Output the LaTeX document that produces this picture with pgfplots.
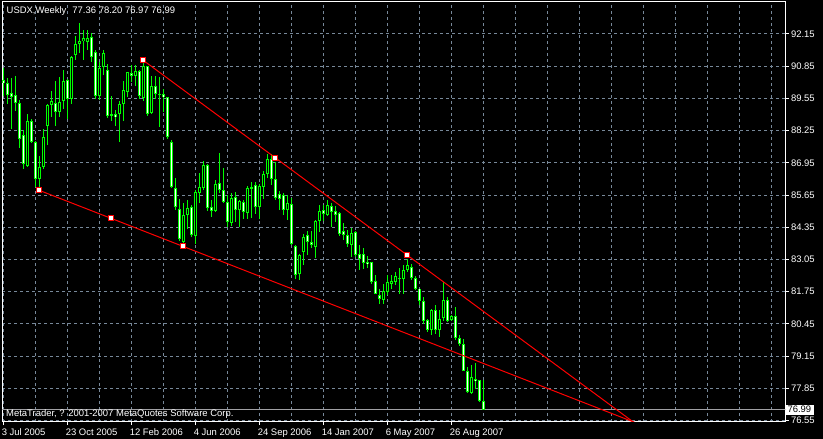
\documentclass[border=0pt]{standalone}
\usepackage{pgfplots}
\usepackage{pgfplotstable}
\pgfplotsset{compat=1.18}
\usepackage{fontspec}
\setmainfont{Liberation Sans}
\definecolor{cgreen}{RGB}{0,255,0}
\definecolor{cred}{RGB}{255,0,0}
\definecolor{cgrid}{RGB}{119,136,153}
\definecolor{cprice}{RGB}{160,160,164}

\pgfplotstableread{
i o h l c
0 90.29 90.77 89.65 90.16
1 90.16 90.36 89.32 89.70
2 89.78 90.36 88.33 89.59
3 89.67 90.46 89.05 89.35
4 89.35 89.48 87.56 87.93
5 88.07 88.29 86.69 86.91
6 86.83 88.91 86.77 88.63
7 88.63 88.70 87.75 87.80
8 87.80 87.82 85.96 86.29
9 86.29 87.21 85.83 86.77
10 86.77 88.30 86.71 87.99
11 88.45 89.31 87.67 89.27
12 89.27 89.85 88.81 89.43
13 89.37 90.25 88.43 89.01
14 89.01 90.40 88.81 89.42
15 89.43 90.70 89.14 90.24
16 90.30 90.32 88.72 89.51
17 89.51 91.25 89.32 91.22
18 91.30 92.06 91.11 91.76
19 91.76 92.60 91.38 91.88
20 91.85 92.33 91.11 91.99
21 91.81 92.31 91.50 92.00
22 92.01 92.17 91.03 91.23
23 91.43 91.49 89.52 89.64
24 89.66 91.01 89.50 90.77
25 90.81 91.49 90.50 91.39
26 90.69 90.94 88.78 88.85
27 88.85 89.66 88.64 88.91
28 88.94 89.10 88.44 88.78
29 88.91 89.46 87.79 89.32
30 89.32 90.24 88.64 89.90
31 89.79 90.63 89.59 90.61
32 90.58 90.88 90.20 90.47
33 90.47 90.88 90.06 90.65
34 90.65 90.68 89.52 89.63
35 89.55 91.15 89.46 90.85
36 90.85 90.87 88.85 88.91
37 88.95 90.44 88.92 90.04
38 90.04 90.47 89.52 89.71
39 89.72 90.40 88.41 89.70
40 89.71 89.95 89.00 89.60
41 89.59 89.62 87.90 87.98
42 87.80 87.87 85.94 85.98
43 85.93 86.34 85.05 85.16
44 85.08 85.49 83.81 83.86
45 83.77 85.33 83.70 84.84
46 84.84 85.46 84.27 85.12
47 85.16 85.26 83.97 84.05
48 84.01 85.87 83.67 85.77
49 85.73 86.54 85.33 85.98
50 85.93 87.02 85.87 86.88
51 86.88 86.90 84.99 85.12
52 85.16 85.46 84.76 84.99
53 84.99 86.27 84.95 86.11
54 86.14 87.33 85.73 85.87
55 85.87 86.75 85.35 85.39
56 85.37 85.66 84.35 84.58
57 84.54 85.73 84.40 85.53
58 85.57 85.76 84.58 85.05
59 85.05 85.46 84.35 85.43
60 85.39 85.45 84.68 84.95
61 84.92 86.00 84.68 85.93
62 85.92 86.16 84.73 85.98
63 86.07 86.16 84.89 85.16
64 85.16 86.11 84.68 86.03
65 85.98 86.61 85.49 86.52
66 86.52 87.29 86.34 87.09
67 87.11 87.29 86.07 86.30
68 86.30 86.98 85.46 85.53
69 85.70 85.80 85.05 85.49
70 85.66 85.73 84.85 85.05
71 85.03 85.66 84.65 85.33
72 85.29 85.53 83.63 83.66
73 83.59 83.63 82.28 82.44
74 82.48 83.29 82.21 83.25
75 83.36 84.08 82.82 83.97
76 84.03 84.22 83.22 83.77
77 83.77 84.22 83.50 83.63
78 83.56 84.65 83.13 84.62
79 84.60 85.26 84.18 85.00
80 85.03 85.26 84.60 84.89
81 84.85 85.46 84.80 85.26
82 85.22 85.33 84.38 84.95
83 84.99 85.19 84.58 84.85
84 84.92 84.95 84.00 84.07
85 84.21 84.51 83.84 84.04
86 84.04 84.24 83.56 83.67
87 83.63 84.31 83.16 84.13
88 84.17 84.19 83.16 83.23
89 83.29 83.63 82.62 83.09
90 83.29 83.50 82.68 82.92
91 82.96 83.20 82.70 82.86
92 82.94 82.96 82.08 82.14
93 82.17 82.41 81.64 81.67
94 81.60 81.87 81.24 81.47
95 81.40 82.08 81.24 81.76
96 81.74 82.41 81.60 82.14
97 82.08 82.41 81.87 82.17
98 82.14 82.55 82.04 82.37
99 82.32 82.69 81.67 82.28
100 82.28 82.82 81.67 82.62
101 82.62 83.09 82.55 82.82
102 82.75 82.86 82.24 82.32
103 82.32 82.38 81.81 81.88
104 81.88 81.88 81.20 81.38
105 81.38 81.54 80.46 80.57
106 80.59 80.66 80.12 80.22
107 80.22 81.07 79.99 81.03
108 81.03 81.20 80.05 80.22
109 80.22 81.03 79.92 80.66
110 80.70 82.15 80.59 81.40
111 81.40 81.54 80.53 80.59
112 80.62 80.80 80.58 80.76
113 80.76 81.13 79.81 79.89
114 79.87 79.99 79.58 79.65
115 79.65 79.85 78.54 78.57
116 78.57 78.71 77.65 77.69
117 77.65 78.81 77.63 78.30
118 78.23 78.87 77.83 78.14
119 78.19 78.19 77.29 77.33
120 77.36 78.20 76.97 76.99
}\ohlc

\begin{document}
\begin{tikzpicture}
\path[use as bounding box, fill=black] (0,0) rectangle (823bp,439bp);
\begin{axis}[
  at={(2bp,17.3bp)}, anchor=south west,
  scale only axis, width=783.3bp, height=419.7bp,
  xmin=-0.325, xmax=195.5, ymin=76.506, ymax=93.44,
  axis line style={white, line width=1bp},
  xtick={0,16,32,48,64,80,96,112},
  xticklabels={3 Jul 2005,23 Oct 2005,12 Feb 2006,4 Jun 2006,24 Sep 2006,14 Jan 2007,6 May 2007,26 Aug 2007},
  minor xtick={8,24,40,56,72,88,104,120,128,136,144,152,160,168,176,184,192},
  ytick={76.55,77.85,79.15,80.45,81.75,83.05,84.35,85.65,86.95,88.25,89.55,90.85,92.15},
  yticklabels={76.55,77.85,79.15,80.45,81.75,83.05,84.35,85.65,86.95,88.25,89.55,90.85,92.15},
  xtick pos=left, ytick pos=right, yticklabel pos=right,
  tick align=outside,
  major tick length=3.5bp, minor tick length=0pt,
  tick style={white, line width=1bp},
  grid=both,
  major grid style={draw=cgrid, dash pattern=on 3bp off 3bp, line width=1bp},
  minor grid style={draw=cgrid, dash pattern=on 3bp off 3bp, line width=1bp},
  ticklabel style={text=white, font=\fontsize{9.5}{10}\selectfont},
  xticklabel style={anchor=north west, inner sep=0pt, xshift=-1.7bp, yshift=-3bp},
  yticklabel style={anchor=west, inner sep=0pt, xshift=2bp},
  extra y ticks={76.99}, extra y tick labels={76.99},
  extra y tick style={grid=none, major tick length=0pt,
    yticklabel style={fill=white, text=black, inner xsep=2.5bp, inner ysep=1.8bp, xshift=-2.5bp}},
]
% current price line
\addplot[cprice, line width=1bp, forget plot] coordinates {(-1,76.99) (200,76.99)};
% wicks
\addplot[draw=none, mark=none, forget plot,
  error bars/.cd, y dir=both, y explicit, error mark=none,
  error bar style={line width=1bp, draw=cgreen}]
  table[x=i, y expr={(\thisrow{h}+\thisrow{l})/2}, y error expr={(\thisrow{h}-\thisrow{l})/2}] {\ohlc};
% bodies (outline)
\addplot[draw=none, mark=none, forget plot,
  error bars/.cd, y dir=both, y explicit, error mark=none,
  error bar style={line width=3bp, draw=cgreen}]
  table[x=i, y expr={(\thisrow{o}+\thisrow{c})/2}, y error expr={max(abs(\thisrow{o}-\thisrow{c})/2,0.02)}] {\ohlc};
% bear interiors (white)
\addplot[draw=none, mark=none, forget plot,
  restrict expr to domain={\thisrow{o}-\thisrow{c}}{0.0001:100},
  error bars/.cd, y dir=both, y explicit, error mark=none,
  error bar style={line width=1bp, draw=white}]
  table[x=i, y expr={(\thisrow{o}+\thisrow{c})/2}, y error expr={max(abs(\thisrow{o}-\thisrow{c})/2-0.04,0)}] {\ohlc};
% bull interiors (black)
\addplot[draw=none, mark=none, forget plot,
  restrict expr to domain={\thisrow{c}-\thisrow{o}}{0.0001:100},
  error bars/.cd, y dir=both, y explicit, error mark=none,
  error bar style={line width=1bp, draw=black}]
  table[x=i, y expr={(\thisrow{o}+\thisrow{c})/2}, y error expr={max(abs(\thisrow{o}-\thisrow{c})/2-0.04,0)}] {\ohlc};
% trend lines
\addplot[cred, line width=1bp, forget plot] coordinates {(35,91.085) (160,76.196)};
\addplot[cred, line width=1bp, forget plot] coordinates {(9,85.84) (160,76.342)};
\addplot[only marks, mark=square*, mark size=2.5bp, mark options={fill=white, draw=cred, line width=1bp}, forget plot]
  coordinates {(35,91.085) (68,87.154) (101,83.224) (9,85.84) (27,84.708) (45,83.576)};
\end{axis}
\node[anchor=base west, inner sep=0pt, text=white, font=\fontsize{9.5}{10}\selectfont] at (6.5bp,425bp) {USDX,Weekly\hspace{6bp}77.36 78.20 76.97 76.99};
\node[anchor=base west, inner sep=0pt, text=white, font=\fontsize{9.5}{10}\selectfont] at (6bp,22.3bp) {MetaTrader, ? 2001-2007 MetaQuotes Software Corp.};
\end{tikzpicture}
\end{document}
